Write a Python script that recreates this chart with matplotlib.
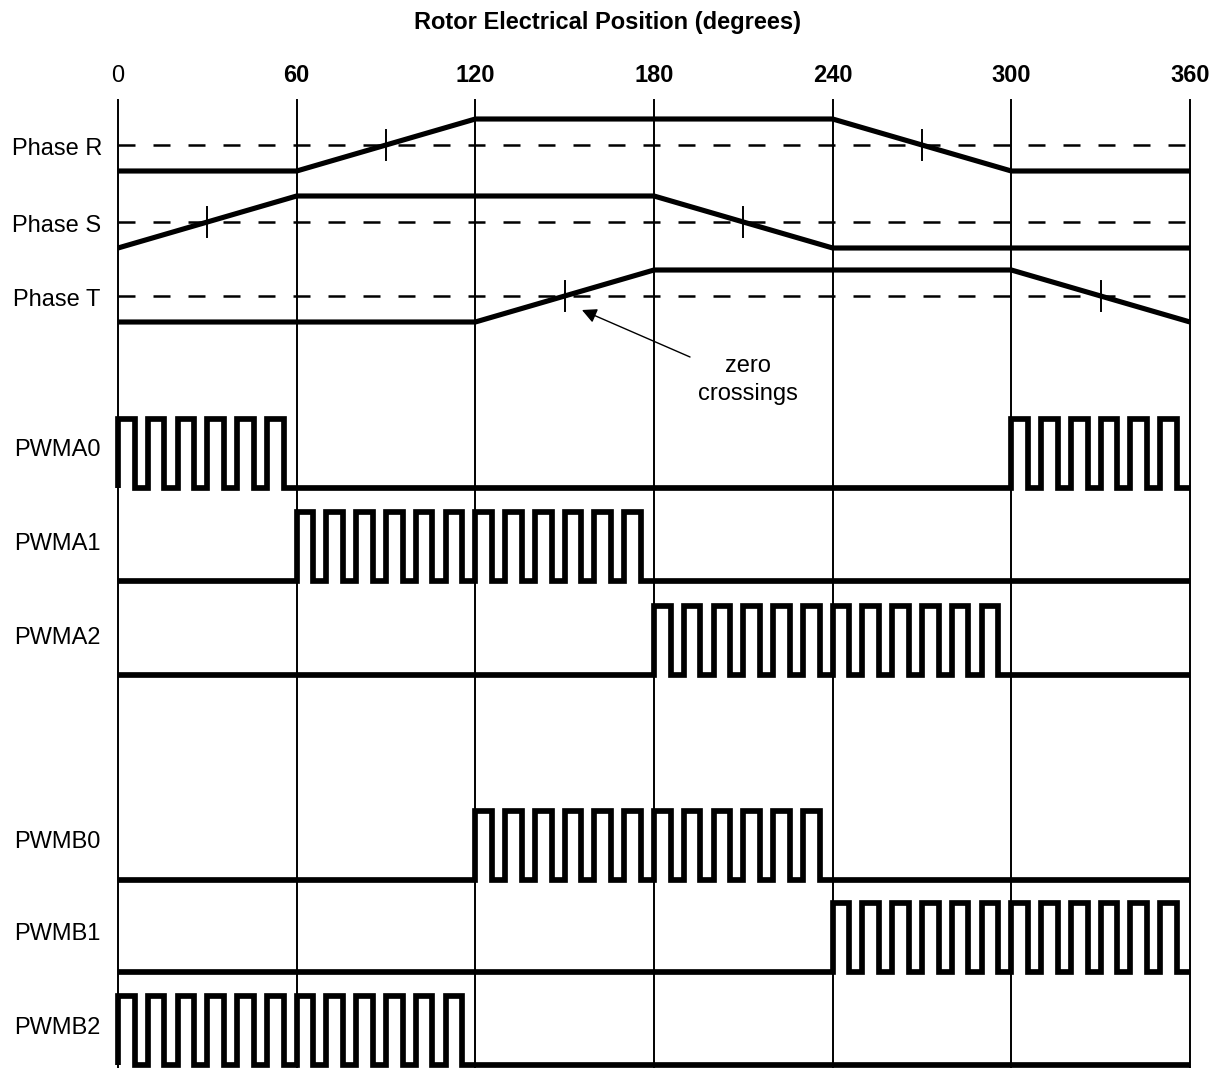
"""Commutation timing diagram: phase back-EMF vs PWM channel activity."""

import numpy as np
import matplotlib

matplotlib.use("Agg")
import matplotlib.pyplot as plt

plt.rcParams["font.family"] = ["Liberation Sans", "DejaVu Sans"]

# x positions (electrical degrees)
SECTOR_EDGES = [0, 60, 120, 180, 240, 300, 360]
TICK_LABELS = ["0", "60", "120", "180", "240", "300", "360"]

# phase back-EMF shape, normalised (+1 high, -1 low) at the sector edges
PHASE_NAMES = ["Phase R", "Phase S", "Phase T"]
PHASE_R = [-1, -1, 1, 1, 1, -1, -1]
PHASE_S = [-1, 1, 1, 1, -1, -1, -1]
PHASE_T = [-1, -1, -1, 1, 1, 1, -1]

# PWM channels: bursts as (start degree, number of pulses)
PWM_NAMES = ["PWMA0", "PWMA1", "PWMA2", "PWMB0", "PWMB1", "PWMB2"]
PWM_BURSTS = [
    [(0, 6), (300, 6)],
    [(60, 12)],
    [(180, 12)],
    [(120, 12)],
    [(240, 12)],
    [(0, 12)],
]
PULSE_PERIOD = 10.0
PULSE_WIDTH = 5.6

# layout (vertical positions in pixels from the top)
W, H = 1209, 1068
X0_PX, X360_PX = 118, 1190
PHASE_CENTER = [145, 222, 296]
PHASE_AMP = 26
PWM_BASE = [488, 581, 675, 880, 972, 1065]
PWM_AMP = 69
GRID_TOP = 100

fig = plt.figure(figsize=(W / 100, H / 100), dpi=100)
ax = fig.add_axes([0, 0, 1, 1])
px_per_deg = (X360_PX - X0_PX) / 360.0
ax.set_xlim(-X0_PX / px_per_deg, 360 + (W - X360_PX) / px_per_deg)
ax.set_ylim(H, 0)
ax.axis("off")

# vertical sector lines
for deg in SECTOR_EDGES:
    ax.plot([deg, deg], [GRID_TOP, H], color="black", lw=1.4, zorder=1)

# tick labels and title
for deg, lab in zip(SECTOR_EDGES, TICK_LABELS):
    ax.text(deg, 76, lab, ha="center", va="center", fontsize=17,
            fontweight="normal" if lab == "0" else "bold")
fig.text(607 / W, 1 - 22 / H, "Rotor Electrical Position (degrees)",
         ha="center", va="center", fontsize=17, fontweight="bold")

# phases
angles = np.array(SECTOR_EDGES, dtype=float)
for name, vals, yc in zip(PHASE_NAMES, [PHASE_R, PHASE_S, PHASE_T], PHASE_CENTER):
    vals = np.array(vals, dtype=float)
    ax.plot([0, 360], [yc, yc], color="black", lw=1.8, dashes=(6.8, 7.2),
            solid_capstyle="butt", dash_capstyle="butt", zorder=2)
    ax.plot(angles, yc - vals * PHASE_AMP, color="black", lw=3.7,
            solid_joinstyle="miter", solid_capstyle="butt", zorder=3)
    # zero crossings from sign changes along the ramps
    for i in range(len(vals) - 1):
        if vals[i] * vals[i + 1] < 0:
            zc = angles[i] + (angles[i + 1] - angles[i]) * vals[i] / (vals[i] - vals[i + 1])
            ax.plot([zc, zc], [yc - 15, yc + 15], color="black", lw=1.4, zorder=4)
    fig.text(57 / W, 1 - (yc + 4) / H, name, ha="center", va="center", fontsize=17)

# annotation
ax.annotate("", xy=(155.8, 310), xytext=(192.1, 357),
            arrowprops=dict(arrowstyle="-|>", color="black", lw=1.0,
                            mutation_scale=22, shrinkA=0, shrinkB=0))
ax.text(211.5, 380, "zero\ncrossings", ha="center", va="center",
        fontsize=17, linespacing=1.35)

# PWM channels
for name, bursts, base in zip(PWM_NAMES, PWM_BURSTS, PWM_BASE):
    xs, ys = [0.0], [0.0]
    for start, count in bursts:
        for k in range(count):
            r = start + k * PULSE_PERIOD
            f = r + PULSE_WIDTH
            xs += [r, r, f, f]
            ys += [0, 1, 1, 0]
    xs.append(360.0)
    ys.append(0.0)
    ax.plot(xs, base - np.array(ys) * PWM_AMP, color="black", lw=4.1,
            solid_joinstyle="miter", solid_capstyle="butt", zorder=3)
    fig.text(57 / W, 1 - (base - PWM_AMP / 2 - 3) / H, name,
             ha="center", va="center", fontsize=17)

fig.savefig("out.png", dpi=100)
